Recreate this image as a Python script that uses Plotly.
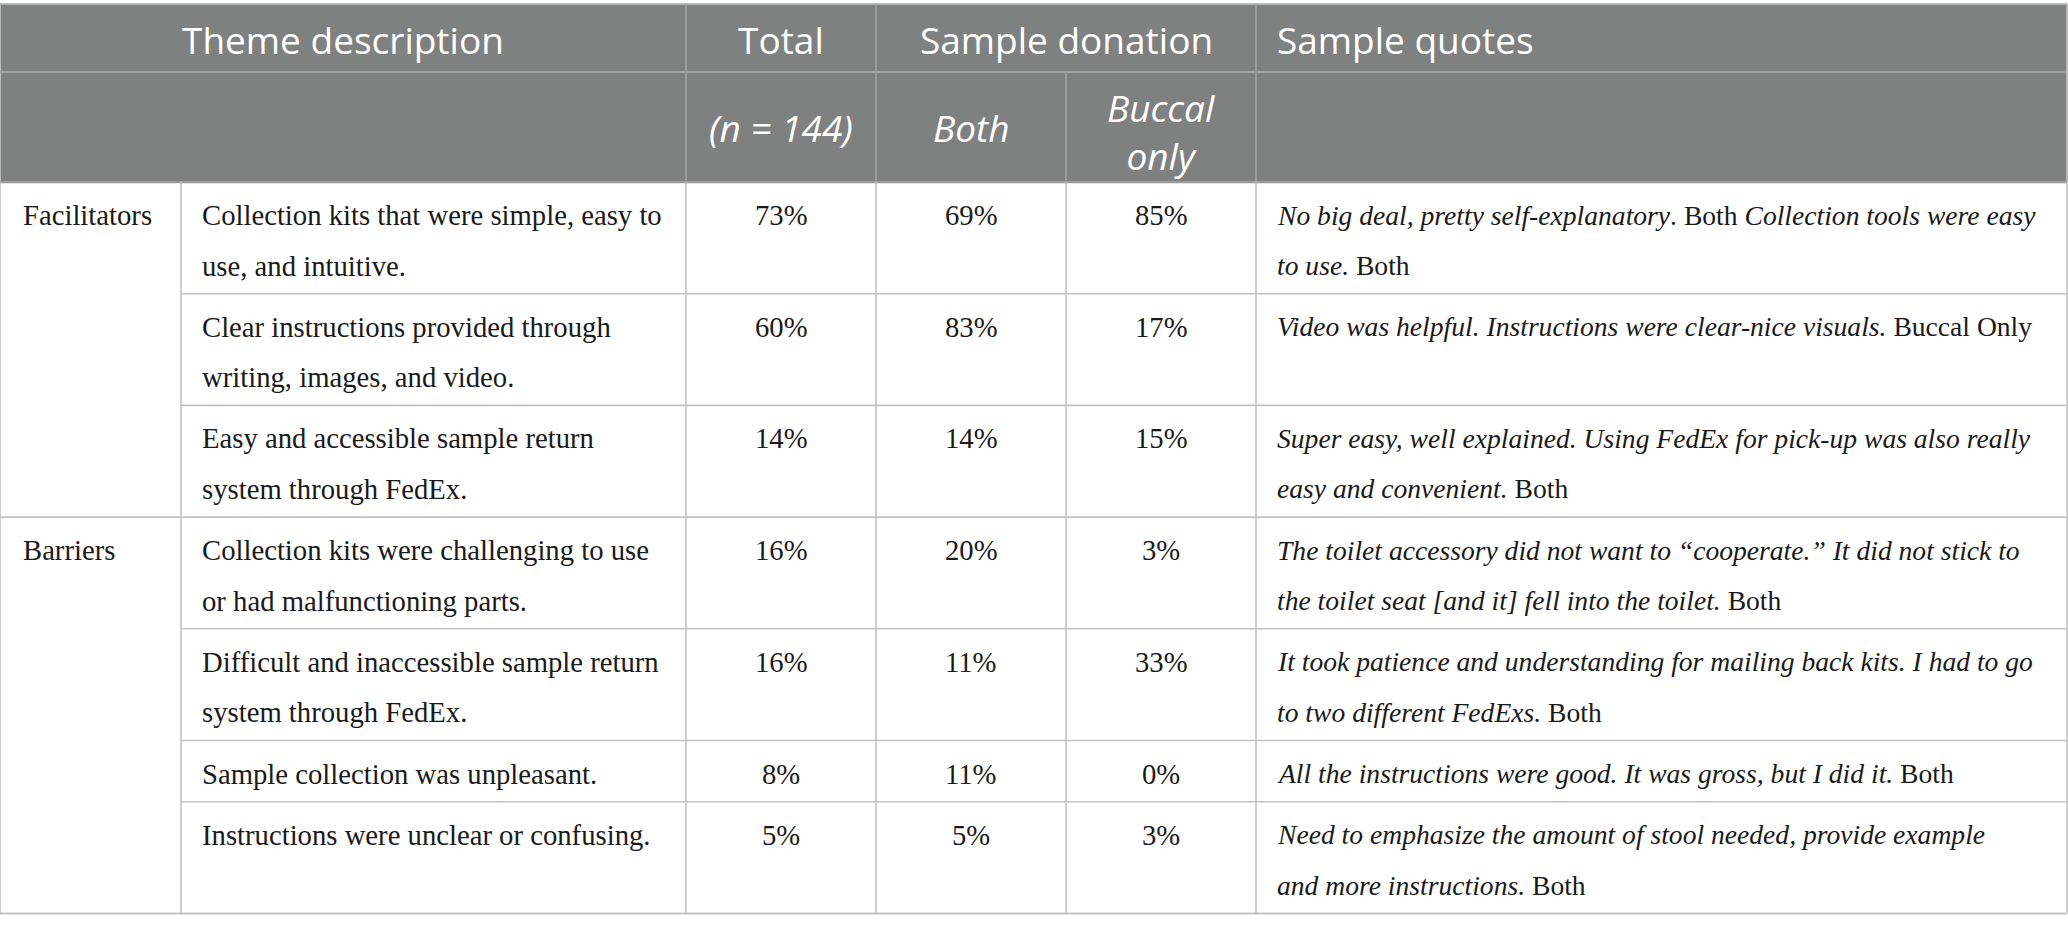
import plotly.graph_objects as go

# table content
categories = ["Facilitators", "Barriers"]
category_rows = [0, 3]          # first row of each group

themes = [
    ["Collection kits that were simple, easy to", "use, and intuitive."],
    ["Clear instructions provided through", "writing, images, and video."],
    ["Easy and accessible sample return", "system through FedEx."],
    ["Collection kits were challenging to use", "or had malfunctioning parts."],
    ["Difficult and inaccessible sample return", "system through FedEx."],
    ["Sample collection was unpleasant."],
    ["Instructions were unclear or confusing."],
]
total_pct = [73, 60, 14, 16, 16, 8, 5]
both_pct = [69, 83, 14, 20, 11, 11, 5]
buccal_pct = [85, 17, 15, 3, 33, 0, 3]
quotes = [
    ["<i>No big deal, pretty self-explanatory</i>. Both <i>Collection tools were easy</i>",
     "<i>to use.</i> Both"],
    ["<i>Video was helpful. Instructions were clear-nice visuals.</i> Buccal Only"],
    ["<i>Super easy, well explained. Using FedEx for pick-up was also really</i>",
     "<i>easy and convenient.</i> Both"],
    ["<i>The toilet accessory did not want to “cooperate.” It did not stick to</i>",
     "<i>the toilet seat [and it] fell into the toilet.</i> Both"],
    ["<i>It took patience and understanding for mailing back kits. I had to go</i>",
     "<i>to two different FedExs.</i> Both"],
    ["<i>All the instructions were good. It was gross, but I did it.</i> Both"],
    ["<i>Need to emphasize the amount of stool needed, provide example</i>",
     "<i>and more instructions.</i> Both"],
]

W, H = 2068, 931
cols = [0, 181, 686, 876, 1066, 1256, 2067]
head_top, head_mid, head_bot = 4, 72, 182
LINE, PAD = 50.5, 10.7
HEAD_FILL = "#7f8180"
HEAD_LINE = "#a3a4a3"
GRID = "#c2c2c2"
SANS = "Open Sans"
SERIF = "Liberation Serif"
TXT = "#1a1a1a"

fig = go.Figure()
shapes = []
ann = []


def text(x, y, s, anchor="left", font=SERIF, size=28.7, color=TXT):
    ann.append(dict(x=x, y=y, text=s, xanchor=anchor, yanchor="middle", showarrow=False,
                    font=dict(family=font, size=size, color=color)))


def hline(x0, x1, y, color=GRID, w=1.6):
    shapes.append(dict(type="line", x0=x0, x1=x1, y0=y, y1=y, line=dict(color=color, width=w)))


def vline(x, y0, y1, color=GRID, w=1.6):
    shapes.append(dict(type="line", x0=x, x1=x, y0=y0, y1=y1, line=dict(color=color, width=w)))


# header
shapes.append(dict(type="rect", x0=cols[0], x1=cols[-1], y0=head_top, y1=head_bot,
                   fillcolor=HEAD_FILL, line=dict(width=0), layer="below"))
hline(cols[0], cols[-1], head_top, "#b8b8b8", 2)
hline(cols[0], cols[-1], head_mid, HEAD_LINE, 2)
for c in [cols[2], cols[3], cols[5]]:
    vline(c, head_top, head_bot, HEAD_LINE, 1.6)
vline(cols[4], head_mid, head_bot, HEAD_LINE, 1.6)
vline(cols[0], head_top, head_bot, "#b8b8b8", 2)
vline(cols[-1], head_top, head_bot, "#b8b8b8", 2)

HS = 37
mid = lambda a, b: (cols[a] + cols[b]) / 2
text(mid(0, 2), 39, "Theme description", "center", SANS, HS, "white")
text(mid(2, 3), 39, "Total", "center", SANS, HS, "white")
text(mid(3, 5), 39, "Sample donation", "center", SANS, HS, "white")
text(cols[5] + 19, 39, "Sample quotes", "left", SANS, HS, "white")
text(mid(2, 3), 127, "<i>(n = 144)</i>", "center", SANS, HS, "white")
text(mid(3, 4), 127, "<i>Both</i>", "center", SANS, HS, "white")
text(mid(4, 5), 131, "<i>Buccal<br>only</i>", "center", SANS, HS, "white")

# body rows
tops = [head_bot]
for i in range(len(themes)):
    n = max(len(themes[i]), len(quotes[i]))
    tops.append(tops[-1] + PAD + LINE * n)

QS = 27.6
for i in range(len(themes)):
    y0 = tops[i] + 33
    for k, line in enumerate(themes[i]):
        text(cols[1] + 19, y0 + k * LINE, line)
    text(mid(2, 3), y0, f"{total_pct[i]}%", "center")
    text(mid(3, 4), y0, f"{both_pct[i]}%", "center")
    text(mid(4, 5), y0, f"{buccal_pct[i]}%", "center")
    for k, line in enumerate(quotes[i]):
        text(cols[5] + 19, y0 + k * LINE, line, size=QS)
    if i > 0:
        x_start = cols[0] if i in category_rows else cols[1]
        hline(x_start, cols[-1], tops[i])

for name, r in zip(categories, category_rows):
    text(cols[0] + 21, tops[r] + 33, name)

hline(cols[0], cols[-1], head_bot, "#9a9a9a", 2.5)
hline(cols[0], cols[-1], tops[-1], GRID, 2)
for c in cols:
    vline(c, head_bot, tops[-1])

fig.update_layout(
    width=W, height=H, autosize=False,
    margin=dict(l=0, r=0, t=0, b=0),
    paper_bgcolor="white", plot_bgcolor="white",
    xaxis=dict(range=[0, W], visible=False, fixedrange=True),
    yaxis=dict(range=[H, 0], visible=False, fixedrange=True),
    shapes=shapes, annotations=ann, showlegend=False,
)

fig.write_html("out.html", config={"displayModeBar": False},
               post_script="document.body.style.margin='0';document.body.style.overflow='hidden';")
